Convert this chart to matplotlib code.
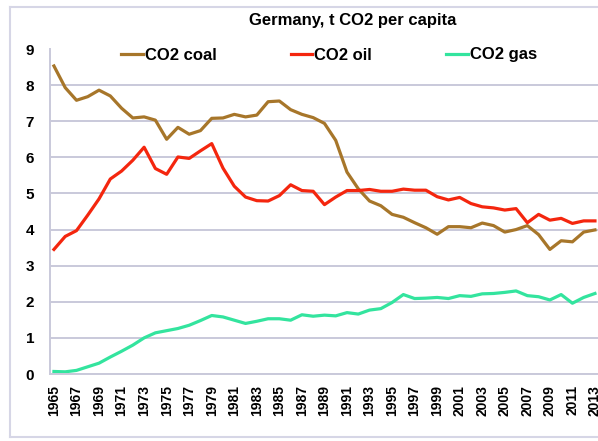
"""Germany, t CO2 per capita by fuel, 1965-2013."""

import matplotlib

matplotlib.use("Agg")

import matplotlib.pyplot as plt  # noqa: E402
from matplotlib.lines import Line2D  # noqa: E402
import numpy as np  # noqa: E402

plt.rcParams["font.family"] = ["Liberation Sans", "DejaVu Sans"]
plt.rcParams["font.weight"] = "bold"

YEARS = np.arange(1965, 2014)

CO2_COAL = [
    8.53, 7.93, 7.58, 7.68, 7.86, 7.70, 7.36, 7.09, 7.12, 7.03,
    6.50, 6.83, 6.64, 6.74, 7.08, 7.09, 7.19, 7.12, 7.17, 7.54,
    7.56, 7.32, 7.19, 7.10, 6.94, 6.47, 5.59, 5.13, 4.79, 4.66,
    4.42, 4.34, 4.19, 4.05, 3.87, 4.08, 4.08, 4.05, 4.18, 4.11,
    3.93, 4.00, 4.11, 3.86, 3.45, 3.69, 3.66, 3.93, 3.99,
]
CO2_OIL = [
    3.45, 3.81, 3.97, 4.40, 4.85, 5.40, 5.62, 5.92, 6.28, 5.69,
    5.53, 6.01, 5.97, 6.18, 6.38, 5.70, 5.20, 4.90, 4.80, 4.79,
    4.94, 5.24, 5.08, 5.06, 4.69, 4.90, 5.08, 5.08, 5.11, 5.06,
    5.06, 5.12, 5.09, 5.09, 4.91, 4.82, 4.89, 4.72, 4.63, 4.60,
    4.54, 4.58, 4.19, 4.42, 4.26, 4.31, 4.17, 4.24, 4.24,
]
CO2_GAS = [
    0.07, 0.06, 0.10, 0.20, 0.30, 0.47, 0.63, 0.80, 1.00, 1.14,
    1.20, 1.26, 1.35, 1.48, 1.62, 1.58, 1.49, 1.40, 1.46, 1.53,
    1.53, 1.49, 1.64, 1.60, 1.63, 1.61, 1.70, 1.66, 1.77, 1.81,
    1.98, 2.20, 2.09, 2.10, 2.12, 2.09, 2.17, 2.15, 2.22, 2.23,
    2.26, 2.30, 2.17, 2.14, 2.05, 2.20, 1.96, 2.12, 2.23,
]
SERIES = {
    "CO2 coal": (CO2_COAL, "#A7762A"),
    "CO2 oil": (CO2_OIL, "#F4260E"),
    "CO2 gas": (CO2_GAS, "#33E49E"),
}
GRID_COLOR = "#C9C9DA"

W, H = 598, 441
fig = plt.figure(figsize=(W / 100, H / 100), dpi=100)
fig.patch.set_facecolor("white")

# light outer frame of the original chart area (cut off on the right)
fig.add_artist(Line2D([10 / W, 10 / W], [1 - 7 / H, 1 - 437 / H],
                      color="#D6D6E6", lw=1.5, transform=fig.transFigure))
fig.add_artist(Line2D([10 / W, 1], [1 - 7 / H, 1 - 7 / H],
                      color="#D6D6E6", lw=1.5, transform=fig.transFigure))
fig.add_artist(Line2D([10 / W, 1], [1 - 437 / H, 1 - 437 / H],
                      color="#D6D6E6", lw=1.5, transform=fig.transFigure))

ax = fig.add_axes([50 / W, (H - 374) / H, (598 - 50) / W, (374 - 49) / H])
for label, (values, color) in SERIES.items():
    ax.plot(YEARS, values, color=color, lw=2.3, label=label,
            solid_joinstyle="round")

ax.set_xlim(1964.65, 2013.27)
ax.set_ylim(0, 9)
ax.set_yticks(range(0, 10))
ax.set_xticks(YEARS[::2])
ax.set_xticklabels([str(y) for y in YEARS[::2]], rotation=90,
                   fontsize=10, fontweight="bold")
ax.tick_params(axis="y", length=0, pad=11.5, labelsize=11)
ax.tick_params(axis="x", length=0, pad=8)
ax.yaxis.grid(True, color=GRID_COLOR, lw=1.4)
ax.yaxis.get_gridlines()[-1].set_visible(False)
ax.set_axisbelow(True)
for side in ("top", "right"):
    ax.spines[side].set_visible(False)
for side in ("left", "bottom"):
    ax.spines[side].set_color(GRID_COLOR)
    ax.spines[side].set_linewidth(1.4)

fig.text(353 / W, 1 - 21 / H, "Germany, t CO2 per capita",
         ha="center", va="center", fontsize=12, fontweight="bold")
fig.legend(loc="center", bbox_to_anchor=(329 / W, 1 - 55 / H), ncol=3,
           frameon=False, handlelength=1.3,
           handletextpad=0.12, columnspacing=4.45,
           prop={"weight": "bold", "size": 12})

fig.savefig("out.png", dpi=100, facecolor="white")
